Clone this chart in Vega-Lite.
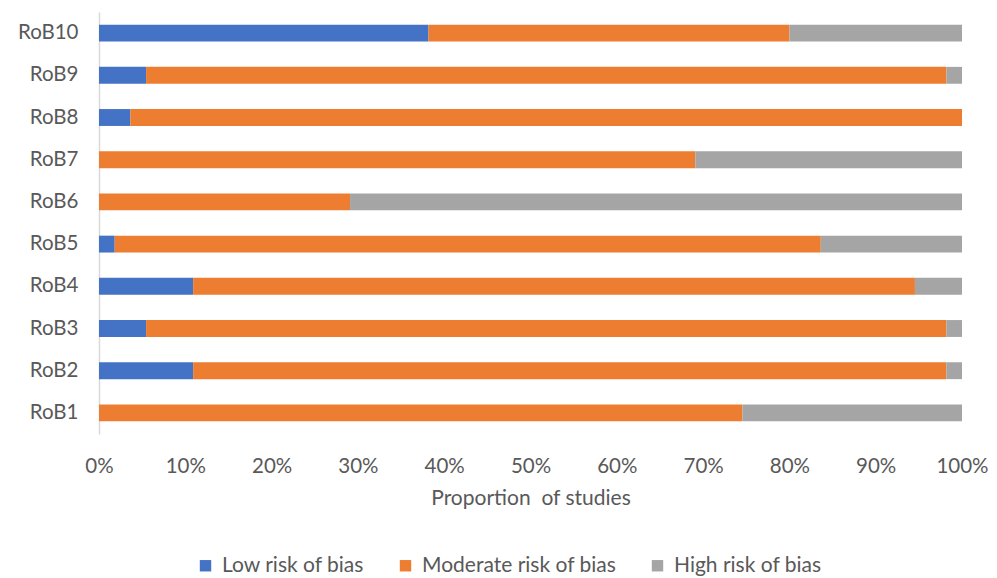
{
  "$schema": "https://vega.github.io/schema/vega-lite/v6.json",
  "width": 863,
  "height": 422,
  "autosize": {"type": "none"},
  "padding": {"left": 99, "top": 12, "right": 35, "bottom": 144},
  "background": "white",
  "config": {"view": {"stroke": null}, "font": "Lato"},
  "data": {"values": [
    {"item": "RoB10", "risk": "Low risk of bias", "n": 21},
    {"item": "RoB10", "risk": "Moderate risk of bias", "n": 23},
    {"item": "RoB10", "risk": "High risk of bias", "n": 11},
    {"item": "RoB9", "risk": "Low risk of bias", "n": 3},
    {"item": "RoB9", "risk": "Moderate risk of bias", "n": 51},
    {"item": "RoB9", "risk": "High risk of bias", "n": 1},
    {"item": "RoB8", "risk": "Low risk of bias", "n": 2},
    {"item": "RoB8", "risk": "Moderate risk of bias", "n": 53},
    {"item": "RoB8", "risk": "High risk of bias", "n": 0},
    {"item": "RoB7", "risk": "Low risk of bias", "n": 0},
    {"item": "RoB7", "risk": "Moderate risk of bias", "n": 38},
    {"item": "RoB7", "risk": "High risk of bias", "n": 17},
    {"item": "RoB6", "risk": "Low risk of bias", "n": 0},
    {"item": "RoB6", "risk": "Moderate risk of bias", "n": 16},
    {"item": "RoB6", "risk": "High risk of bias", "n": 39},
    {"item": "RoB5", "risk": "Low risk of bias", "n": 1},
    {"item": "RoB5", "risk": "Moderate risk of bias", "n": 45},
    {"item": "RoB5", "risk": "High risk of bias", "n": 9},
    {"item": "RoB4", "risk": "Low risk of bias", "n": 6},
    {"item": "RoB4", "risk": "Moderate risk of bias", "n": 46},
    {"item": "RoB4", "risk": "High risk of bias", "n": 3},
    {"item": "RoB3", "risk": "Low risk of bias", "n": 3},
    {"item": "RoB3", "risk": "Moderate risk of bias", "n": 51},
    {"item": "RoB3", "risk": "High risk of bias", "n": 1},
    {"item": "RoB2", "risk": "Low risk of bias", "n": 6},
    {"item": "RoB2", "risk": "Moderate risk of bias", "n": 48},
    {"item": "RoB2", "risk": "High risk of bias", "n": 1},
    {"item": "RoB1", "risk": "Low risk of bias", "n": 0},
    {"item": "RoB1", "risk": "Moderate risk of bias", "n": 41},
    {"item": "RoB1", "risk": "High risk of bias", "n": 14}
  ]},
  "transform": [
    {"calculate": "indexof(['Low risk of bias', 'Moderate risk of bias', 'High risk of bias'], datum.risk)", "as": "riskRank"}
  ],
  "mark": {"type": "bar"},
  "encoding": {
    "y": {
      "field": "item", "type": "nominal",
      "sort": ["RoB10", "RoB9", "RoB8", "RoB7", "RoB6", "RoB5", "RoB4", "RoB3", "RoB2", "RoB1"],
      "scale": {"paddingInner": 0.6, "paddingOuter": 0.3},
      "axis": {"title": null, "ticks": false, "domainColor": "#d9d9d9", "domainWidth": 1.5, "labelFontSize": 20.5, "labelColor": "#595959", "labelPadding": 21, "labelFont": "Lato"}
    },
    "x": {
      "field": "n", "type": "quantitative", "stack": "normalize",
      "scale": {"domain": [0, 1], "nice": false},
      "axis": {"format": "%", "values": [0, 0.1, 0.2, 0.3, 0.4, 0.5, 0.6, 0.7, 0.8, 0.9, 1], "grid": false, "domain": false, "ticks": false, "labelFontSize": 20.5, "labelColor": "#595959", "labelPadding": 22, "labelFlush": false, "title": "Proportion\u00a0 of studies", "titleFontSize": 21, "titleFontWeight": "normal", "titleColor": "#595959", "titlePadding": 11}
    },
    "color": {
      "field": "risk", "type": "nominal",
      "sort": ["Low risk of bias", "Moderate risk of bias", "High risk of bias"],
      "scale": {"domain": ["Low risk of bias", "Moderate risk of bias", "High risk of bias"], "range": ["#4472c4", "#ed7d31", "#a5a5a5"]},
      "legend": {"title": null, "orient": "none", "direction": "horizontal", "legendX": 96, "legendY": 543, "symbolType": "square", "symbolSize": 130, "symbolStrokeWidth": 0, "labelFontSize": 21, "labelColor": "#595959", "labelLimit": 400, "columnPadding": 30, "labelOffset": 6}
    },
    "order": {"field": "riskRank", "type": "quantitative", "sort": "ascending"}
  }
}
